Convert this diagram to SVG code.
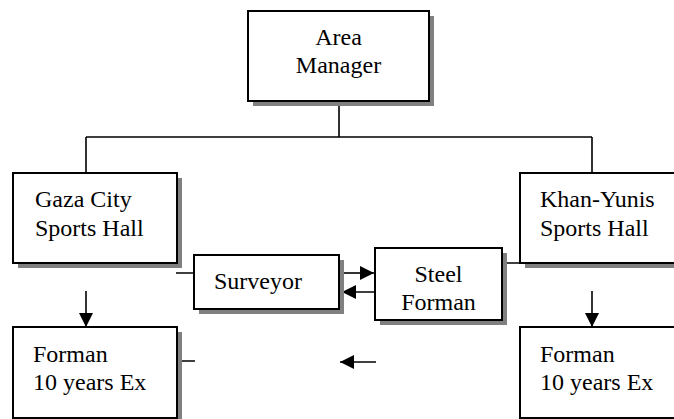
<svg xmlns="http://www.w3.org/2000/svg" width="674" height="419" viewBox="0 0 674 419">
<style>
.box{fill:#fff;stroke:#000;stroke-width:2}
.sh{fill:#808080}
text{font-family:'Liberation Serif','DejaVu Serif',serif;font-size:24px;fill:#000}
.c{fill:none;stroke:#000;stroke-width:1.6}
</style>
<defs>
<marker id="ah" markerUnits="userSpaceOnUse" markerWidth="15" markerHeight="14" refX="14" refY="7" orient="auto">
<path d="M0,0 L14,7 L0,14 Z" fill="#000"/>
</marker>
</defs>
<rect width="674" height="419" fill="#fff"/>
<g id="connectors">
<path class="c" d="M339,101 V137 M86,137 H592 M86,137 V173 M592,137 V173"/>
<path class="c" d="M176,273 H194 M502,263 H520 M181,361 H195"/>
<path class="c" d="M86,291 V327" marker-end="url(#ah)"/>
<path class="c" d="M592,291 V327" marker-end="url(#ah)"/>
<path class="c" d="M343,273 H374" marker-end="url(#ah)"/>
<path class="c" d="M375,292 H342" marker-end="url(#ah)"/>
<path class="c" d="M376,362 H340" marker-end="url(#ah)"/>
</g>
<g id="area-manager">
<rect class="sh" x="253" y="16" width="181" height="90"/>
<rect class="box" x="248" y="11" width="181" height="90"/>
<text x="338.5" y="45" text-anchor="middle">Area</text>
<text x="338.5" y="73" text-anchor="middle">Manager</text>
</g>
<g id="gaza">
<rect class="sh" x="18" y="178" width="164" height="90"/>
<rect class="box" x="13" y="173" width="164" height="90"/>
<text x="35" y="207">Gaza City</text>
<text x="35" y="236">Sports Hall</text>
</g>
<g id="khan">
<rect class="sh" x="525" y="178" width="170" height="90"/>
<rect class="box" x="520" y="173" width="170" height="90"/>
<text x="540" y="207">Khan-Yunis</text>
<text x="540" y="236">Sports Hall</text>
</g>
<g id="surveyor">
<rect class="sh" x="199" y="260" width="145" height="54"/>
<rect class="box" x="194" y="255" width="145" height="54"/>
<text x="214" y="289">Surveyor</text>
</g>
<g id="steel">
<rect class="sh" x="380" y="253" width="127" height="72"/>
<rect class="box" x="375" y="248" width="127" height="72"/>
<text x="438.5" y="282" text-anchor="middle">Steel</text>
<text x="438.5" y="310" text-anchor="middle">Forman</text>
</g>
<g id="forman-left">
<rect class="sh" x="18" y="332" width="164" height="92"/>
<rect class="box" x="13" y="327" width="164" height="91"/>
<text x="33" y="362">Forman</text>
<text x="33" y="390">10 years Ex</text>
</g>
<g id="forman-right">
<rect class="box" x="520" y="327" width="170" height="91"/>
<text x="540" y="362">Forman</text>
<text x="540" y="390">10 years Ex</text>
</g>
</svg>
